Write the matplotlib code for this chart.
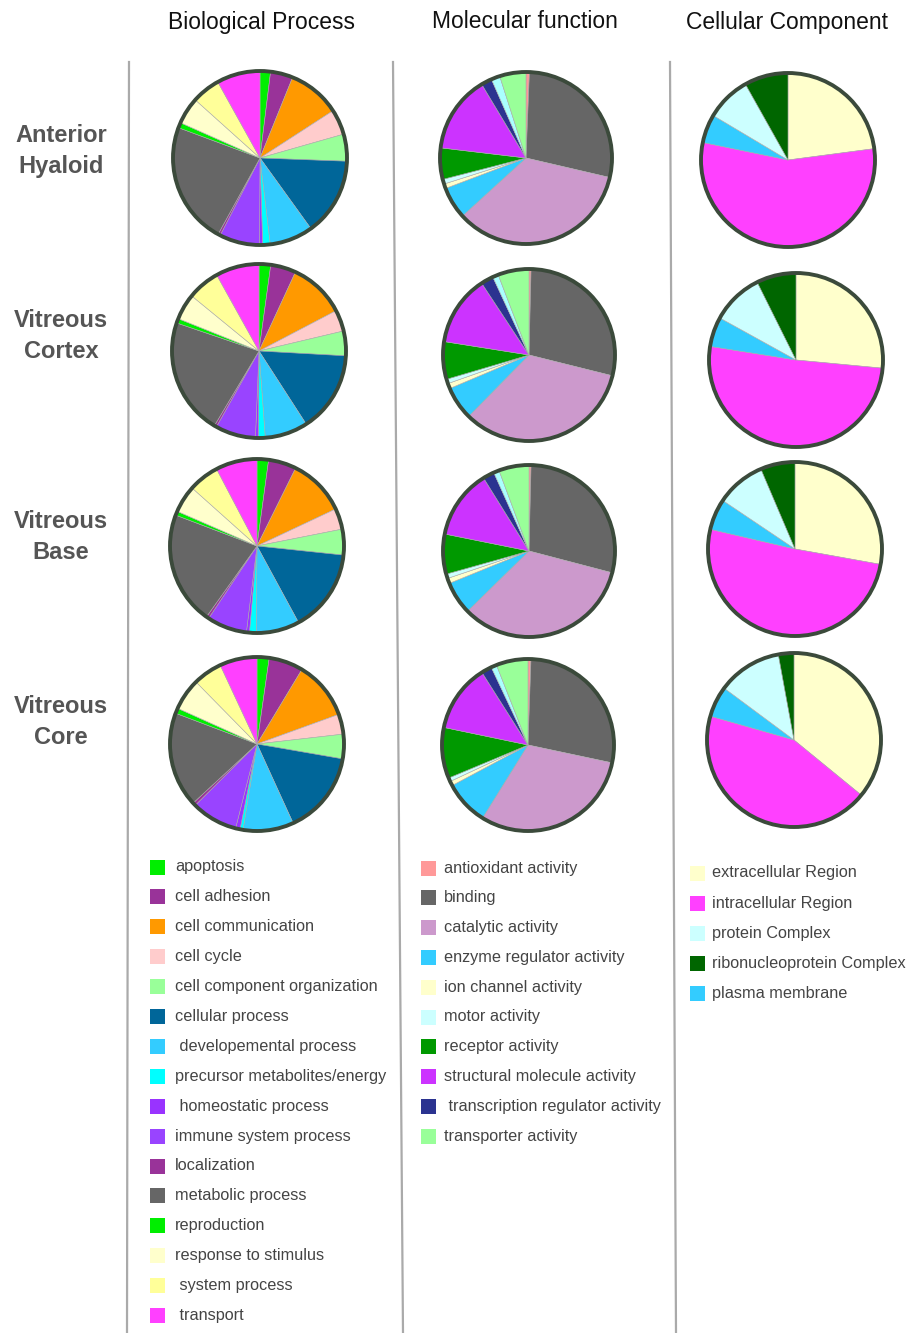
import matplotlib
matplotlib.use("Agg")
import matplotlib.pyplot as plt
from matplotlib.patches import Circle, Rectangle

plt.rcParams['font.family'] = ['Liberation Sans', 'DejaVu Sans']

W, H = 912, 1333

regions = ['Anterior\nHyaloid', 'Vitreous\nCortex', 'Vitreous\nBase', 'Vitreous\nCore']

# Biological process
bp_terms = ['apoptosis', 'cell adhesion', 'cell communication', 'cell cycle',
            'cell component organization', 'cellular process',
            ' developemental process', 'precursor metabolites/energy',
            ' homeostatic process', 'immune system process', 'localization',
            'metabolic process', 'reproduction', 'response to stimulus',
            ' system process', ' transport']
bp_colors = ['#00ee00', '#993399', '#ff9900', '#ffcccc', '#99ff99', '#006699',
             '#33ccff', '#00ffff', '#9933ff', '#9944ff', '#993399', '#666666',
             '#00ee00', '#ffffcc', '#ffff99', '#ff40ff']
bp_anterior = [7, 15, 35, 17, 18, 52, 29, 5, 2, 27, 1.5, 81.5, 3.5, 18, 19, 29]
bp_cortex = [7.8, 17, 37.6, 14.3, 16.5, 54, 28.7, 4.5, 2, 27, 1.5, 78, 3, 17.5, 21.6, 29.1]
bp_base = [7.7, 18.7, 38.4, 14, 17.2, 55.5, 29, 4.5, 2, 26.8, 1.7, 75.3, 2.7, 18.3, 20.5, 27.7]
bp_core = [8.1, 23, 39, 13.4, 16.4, 55.6, 33.8, 2, 3, 31, 2, 63.5, 3.5, 21.3, 19.5, 25]

# Molecular function (translation regulator is drawn but not listed in the key)
mf_terms = ['antioxidant activity', 'binding', 'catalytic activity',
            'enzyme regulator activity', 'ion channel activity', 'motor activity',
            'receptor activity', 'structural molecule activity',
            ' transcription regulator activity', 'translation regulator activity',
            'transporter activity']
mf_colors = ['#ff9999', '#666666', '#cc99cc', '#33ccff', '#ffffcc', '#ccffff',
             '#009900', '#cc33ff', '#2b3390', '#aaffff', '#99ff99']
mf_in_key = [0, 1, 2, 3, 4, 5, 6, 7, 8, 10]
mf_anterior = [2.3, 100.8, 124.5, 21.7, 3.1, 3.2, 21.2, 52.2, 7.3, 5.9, 17.8]
mf_cortex = [1.4, 102.6, 120.5, 22.6, 3.5, 3, 25.4, 47.6, 8.5, 3.9, 21]
mf_base = [1.4, 103.3, 120.9, 22.3, 3.5, 3, 27, 46.7, 7.7, 3.8, 20.4]
mf_core = [2, 100, 109.9, 30, 3, 2.5, 34.4, 45.8, 7.1, 3.8, 21.5]

# Cellular component
cc_terms = ['extracellular Region', 'intracellular Region', 'plasma membrane',
            'protein Complex', 'ribonucleoprotein Complex']
cc_colors = ['#ffffcc', '#ff40ff', '#33ccff', '#ccffff', '#006600']
cc_in_key = [0, 1, 3, 4, 2]
cc_anterior = [80.2, 193.6, 18.6, 29.1, 28.5]
cc_cortex = [95.4, 183.6, 19.9, 34.6, 26.5]
cc_base = [100.2, 182.9, 20.8, 33, 23.1]
cc_core = [129.3, 156.6, 20.7, 43, 10.4]

fig = plt.figure(figsize=(W / 100, H / 100), dpi=100)
ax = fig.add_axes([0, 0, 1, 1])


def draw_pie(values, colors, cx, cy, r):
    ax.pie(values, colors=colors, startangle=90, counterclock=False,
           center=(cx, H - cy), radius=r,
           wedgeprops=dict(edgecolor='#aaaaaa', linewidth=0.4))
    ax.add_patch(Circle((cx, H - cy), r, fill=False, edgecolor='#3b4a3b',
                        linewidth=2.8, zorder=5))


def draw_key(terms, colors, order, x0, y0, step, tx):
    for k, i in enumerate(order):
        y = y0 + k * step
        ax.add_patch(Rectangle((x0, H - y - 7.5), 15, 15, facecolor=colors[i],
                               edgecolor='none'))
        ax.text(tx, H - y, terms[i], fontsize=11.7, color='#444444',
                va='center', ha='left')


bp_sets = [bp_anterior, bp_cortex, bp_base, bp_core]
mf_sets = [mf_anterior, mf_cortex, mf_base, mf_core]
cc_sets = [cc_anterior, cc_cortex, cc_base, cc_core]

bp_centers = [(260, 158), (259, 351), (257, 546), (257, 744)]
mf_centers = [(526, 158), (529, 355), (529, 551), (528, 745)]
cc_centers = [(788, 160), (796, 360), (795, 549), (794, 740)]

for vals, (x, y) in zip(bp_sets, bp_centers):
    draw_pie(vals, bp_colors, x, y, 87)
for vals, (x, y) in zip(mf_sets, mf_centers):
    draw_pie(vals, mf_colors, x, y, 86)
for vals, (x, y) in zip(cc_sets, cc_centers):
    draw_pie(vals, cc_colors, x, y, 87)

# column headers
for label, x in [('Biological Process', 262), ('Molecular function', 525),
                 ('Cellular Component', 787)]:
    ax.text(x, H - 22, label, fontsize=16.5, color='#111111',
            ha='center', va='center')

# row labels
for label, y in zip(regions, [151, 336, 537, 722]):
    ax.text(61, H - y, label, fontsize=17, fontweight='bold', color='#555555',
            ha='center', va='center', linespacing=1.4)

# column separators
for x0, x1 in [(129, 127), (393, 403), (670, 676)]:
    ax.plot([x0, x1], [H - 62, 0], color='#aaaaaa', linewidth=1.6)

draw_key(bp_terms, bp_colors, range(len(bp_terms)), 150, 867, 29.9, 175)
draw_key(mf_terms, mf_colors, mf_in_key, 421, 868, 29.8, 444)
draw_key(cc_terms, cc_colors, cc_in_key, 690, 873, 30.2, 712)

ax.set_xlim(0, W)
ax.set_ylim(0, H)
ax.set_aspect('equal')
ax.axis('off')

fig.savefig('out.png', dpi=100, facecolor='white')
